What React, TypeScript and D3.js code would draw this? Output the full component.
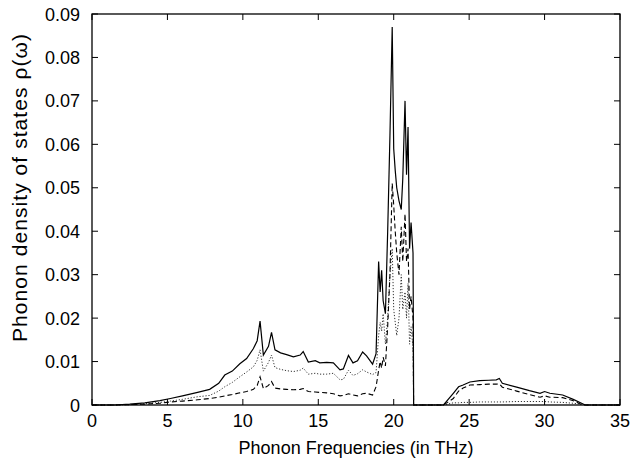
import React, { useEffect, useRef } from "react";
import * as d3 from "d3";

const freqs = [0, 1.5, 2.5, 3.5, 4.5, 5.2, 6, 7, 7.8, 8.4, 8.8, 9.3, 9.8, 10.25, 10.7, 10.95, 11.14, 11.36, 11.7, 11.9, 12.13, 12.5, 12.9, 13.35, 13.8, 14.0, 14.34, 14.8, 15.1, 15.56, 16.0, 16.44, 16.66, 17.0, 17.3, 17.6, 17.94, 18.2, 18.6, 18.83, 19.0, 19.1, 19.2, 19.3, 19.45, 19.6, 19.75, 19.9, 20.0, 20.1, 20.2, 20.35, 20.5, 20.6, 20.75, 20.85, 20.95, 21.05, 21.15, 21.28, 21.3, 21.32, 23.3, 23.95, 24.3, 24.6, 25.05, 25.7, 26.3, 26.8, 27.0, 27.2, 28.15, 29.0, 29.7, 30.0, 30.35, 31.2, 31.9, 32.45, 32.7, 35];

const totalDos = [0, 0, 0.0002, 0.0005, 0.001, 0.0015, 0.0021, 0.0029, 0.0036, 0.005, 0.0069, 0.0078, 0.0095, 0.0107, 0.013, 0.0148, 0.0193, 0.0115, 0.0135, 0.0167, 0.0127, 0.012, 0.0116, 0.0111, 0.0115, 0.0123, 0.0099, 0.0102, 0.0097, 0.0098, 0.0097, 0.0081, 0.0083, 0.0114, 0.0097, 0.0102, 0.0122, 0.0113, 0.0094, 0.0118, 0.033, 0.026, 0.031, 0.024, 0.021, 0.04, 0.062, 0.087, 0.059, 0.054, 0.05, 0.047, 0.045, 0.052, 0.07, 0.053, 0.064, 0.036, 0.042, 0.035, 0.02, 0, 0, 0.0027, 0.0042, 0.0046, 0.0053, 0.0056, 0.0057, 0.0058, 0.0061, 0.005, 0.0041, 0.0033, 0.0027, 0.0031, 0.0027, 0.0023, 0.0013, 0.0004, 0, 0];

const dottedDos = [0, 0, 0.0001, 0.0003, 0.0006, 0.0009, 0.0013, 0.0019, 0.0022, 0.0032, 0.0042, 0.0052, 0.0065, 0.0076, 0.0088, 0.0103, 0.0127, 0.0078, 0.0098, 0.0115, 0.0086, 0.0082, 0.0079, 0.0077, 0.008, 0.0085, 0.0071, 0.0073, 0.0071, 0.0071, 0.0073, 0.0058, 0.0059, 0.008, 0.0068, 0.0072, 0.0081, 0.0076, 0.007, 0.0075, 0.016, 0.019, 0.017, 0.021, 0.014, 0.02, 0.03, 0.036, 0.022, 0.019, 0.016, 0.02, 0.03, 0.022, 0.026, 0.02, 0.028, 0.014, 0.018, 0.013, 0.008, 0, 0, 0.0005, 0.0005, 0.0006, 0.0006, 0.0007, 0.0007, 0.0007, 0.0007, 0.0007, 0.0008, 0.0008, 0.0008, 0.0008, 0.0007, 0.0006, 0.0004, 0.0002, 0, 0];

const dashedDos = [0, 0, 0.0001, 0.0002, 0.0004, 0.0007, 0.0009, 0.0012, 0.0015, 0.0018, 0.0021, 0.0024, 0.0028, 0.0031, 0.0036, 0.0045, 0.0065, 0.0038, 0.0045, 0.0054, 0.0039, 0.0037, 0.0036, 0.0035, 0.0036, 0.0038, 0.0031, 0.003, 0.0029, 0.0028, 0.0026, 0.0021, 0.0022, 0.0026, 0.0023, 0.0021, 0.0026, 0.0027, 0.0023, 0.0042, 0.008, 0.01, 0.0085, 0.011, 0.009, 0.018, 0.03, 0.051, 0.046, 0.04, 0.035, 0.03, 0.041, 0.033, 0.044, 0.033, 0.036, 0.022, 0.025, 0.02, 0.01, 0, 0, 0.0015, 0.0032, 0.0039, 0.0046, 0.0047, 0.0048, 0.0048, 0.0049, 0.0041, 0.0032, 0.0024, 0.0018, 0.0021, 0.0018, 0.0017, 0.001, 0.0001, 0, 0];

const xTicks = [0, 5, 10, 15, 20, 25, 30, 35];
const yTicks = [0, 0.01, 0.02, 0.03, 0.04, 0.05, 0.06, 0.07, 0.08, 0.09];
const xTitle = "Phonon Frequencies (in THz)";
const yTitle = "Phonon density of states ρ(ω)";

export default function App() {
  const ref = useRef<SVGSVGElement>(null);
  useEffect(() => {
    const svg = d3.select(ref.current);
    svg.selectAll("*").remove();
    const L = 92, R = 620, T = 14, B = 405;
    const x = d3.scaleLinear().domain([0, 35]).range([L, R]);
    const y = d3.scaleLinear().domain([0, 0.09]).range([B, T]);
    const font = "'Liberation Sans', Arial, Helvetica, sans-serif";

    const mk = (vals: number[]) => freqs.map((f, i) => [f, vals[i]] as [number, number]);
    const line = d3.line<[number, number]>().x(d => x(d[0])).y(d => y(d[1]));

    const g = svg.append("g");
    g.append("path").attr("d", line(mk(dottedDos))).attr("fill", "none")
      .attr("stroke", "#333").attr("stroke-width", 1).attr("stroke-dasharray", "1.2,1.8");
    g.append("path").attr("d", line(mk(dashedDos))).attr("fill", "none")
      .attr("stroke", "#000").attr("stroke-width", 1.1).attr("stroke-dasharray", "5,3");
    g.append("path").attr("d", line(mk(totalDos))).attr("fill", "none")
      .attr("stroke", "#000").attr("stroke-width", 1.2);

    svg.append("rect").attr("x", L).attr("y", T).attr("width", R - L).attr("height", B - T)
      .attr("fill", "none").attr("stroke", "#000").attr("stroke-width", 1.3);
    const tl = 6;
    xTicks.forEach(t => {
      const xx = x(t);
      svg.append("line").attr("x1", xx).attr("x2", xx).attr("y1", B).attr("y2", B - tl).attr("stroke", "#000");
      svg.append("line").attr("x1", xx).attr("x2", xx).attr("y1", T).attr("y2", T + tl).attr("stroke", "#000");
      svg.append("text").attr("x", xx).attr("y", B + 22).attr("text-anchor", "middle")
        .attr("font-family", font).attr("font-size", 18).attr("fill", "#000").text(String(t));
    });
    yTicks.forEach(t => {
      const yy = y(t);
      svg.append("line").attr("x1", L).attr("x2", L + tl).attr("y1", yy).attr("y2", yy).attr("stroke", "#000");
      svg.append("line").attr("x1", R).attr("x2", R - tl).attr("y1", yy).attr("y2", yy).attr("stroke", "#000");
      svg.append("text").attr("x", L - 12).attr("y", yy + 6.5).attr("text-anchor", "end")
        .attr("font-family", font).attr("font-size", 18).attr("fill", "#000")
        .text(t === 0 ? "0" : d3.format(".2f")(t));
    });
    svg.append("text").attr("x", (L + R) / 2).attr("y", 454).attr("text-anchor", "middle")
      .attr("font-family", font).attr("font-size", 18).attr("fill", "#000").text(xTitle);
    svg.append("text").attr("transform", `translate(27,188) rotate(-90)`)
      .attr("text-anchor", "middle")
      .attr("font-family", font).attr("font-size", 21).attr("fill", "#000")
      .attr("textLength", 308).attr("lengthAdjust", "spacing").text(yTitle);
  }, []);
  return (
    <svg ref={ref} width={637} height={466}
      style={{ position: "absolute", left: 0, top: 0, background: "#fff" }} />
  );
}
